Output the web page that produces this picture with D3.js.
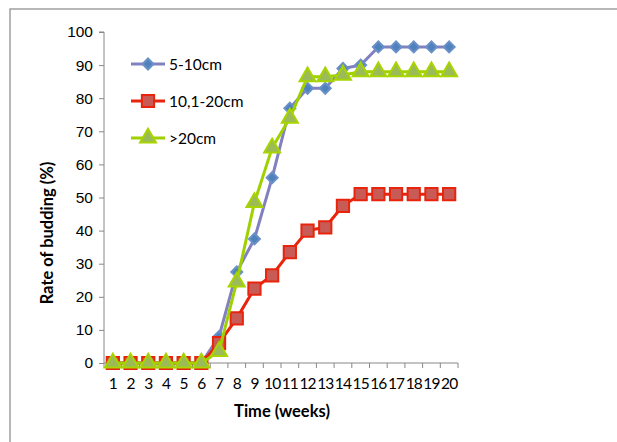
<!DOCTYPE html>
<html>
<head>
<meta charset="utf-8">
<script src="https://cdn.jsdelivr.net/npm/d3@7"></script>
<style>
  body { margin: 0; background: #fff; }
  svg { font-family: Lato, "Open Sans", sans-serif; }
</style>
</head>
<body>
<svg id="chart" width="617" height="442"></svg>
<script>
const weeks = d3.range(1, 21);
const yTicks = [0, 10, 20, 30, 40, 50, 60, 70, 80, 90, 100];
const small = [0, 0, 0, 0, 0, 0, 8, 27.5, 37.5, 56, 77, 83, 83, 89, 90, 95.5, 95.5, 95.5, 95.5, 95.5];
const medium = [0, 0, 0, 0, 0, 0, 6, 13.5, 22.5, 26.5, 33.5, 40, 41, 47.5, 51, 51, 51, 51, 51, 51];
const large = [0, 0, 0, 0, 0, 0, 3.5, 24.5, 48.5, 65, 74, 86.5, 86.5, 87, 88, 88, 88, 88, 88, 88];
const seriesNames = ["5-10cm", "10,1-20cm", ">20cm"];

const svg = d3.select("#chart");

// outer frame
svg.append("rect").attr("x", 10).attr("y", 9).attr("width", 620).attr("height", 450)
  .attr("fill", "none").attr("stroke", "#a0a0a0").attr("stroke-width", 1.5);

const mLeft = 104, mRight = 458, mTop = 32, mBottom = 363;

const x = d3.scaleBand().domain(weeks).range([mLeft, mRight]);
const y = d3.scaleLinear().domain([0, 100]).range([mBottom, mTop]);

// y axis
const yAxis = svg.append("g").attr("transform", `translate(${mLeft},0)`)
  .call(d3.axisLeft(y).tickValues(yTicks).tickSize(5).tickPadding(6));
yAxis.select(".domain").attr("stroke", "#888").attr("d", `M-5,${mTop}H0V${mBottom}`);
yAxis.selectAll(".tick line").attr("stroke", "#888");
yAxis.selectAll("text").attr("font-size", 15.5).attr("fill", "#000");

// x axis
const xAxis = svg.append("g").attr("transform", `translate(0,${mBottom})`);
xAxis.append("line").attr("x1", mLeft).attr("x2", mRight).attr("stroke", "#888");
xAxis.selectAll("line.tk").data(weeks.concat([21])).join("line").attr("class", "tk")
  .attr("x1", d => d <= 20 ? x(d) : mRight).attr("x2", d => d <= 20 ? x(d) : mRight)
  .attr("y1", 0).attr("y2", 5).attr("stroke", "#888");
xAxis.selectAll("text").data(weeks).join("text")
  .attr("x", d => x(d) + x.bandwidth() / 2).attr("y", 26)
  .attr("text-anchor", "middle").attr("font-size", 15.5).attr("letter-spacing", -0.9)
  .text(d => d);

// titles
svg.append("text").attr("x", 282).attr("y", 417).attr("text-anchor", "middle")
  .attr("font-size", 16.5).attr("font-weight", "bold").text("Time (weeks)");
svg.append("text").attr("transform", "translate(53,233) rotate(-90)").attr("text-anchor", "middle")
  .attr("font-size", 16.5).attr("font-weight", "bold").text("Rate of budding (%)");

const cx = (d, i) => x(weeks[i]) + x.bandwidth() / 2;
const line = d3.line().x(cx).y(d => y(d));

const styles = [
  { data: small, line: "#8281c0", fill: "#4f81bd", stroke: "#6a90c8", shape: d3.symbolSquare, size: 60, rot: 45 },
  { data: medium, line: "#e8250c", fill: "#c95b57", stroke: "#e8250c", shape: d3.symbolSquare, size: 150, rot: 0 },
  { data: large, line: "#9fd100", fill: "#9bbb59", stroke: "#a8d400", shape: d3.symbolTriangle, size: 110, rot: 0 }
];

const plot = svg.append("g");
styles.forEach(s => {
  plot.append("path").datum(s.data).attr("d", line)
    .attr("fill", "none").attr("stroke", s.line).attr("stroke-width", 3);
  plot.selectAll(null).data(s.data).join("path")
    .attr("transform", (d, i) => `translate(${cx(d, i)},${y(d)}) rotate(${s.rot})`)
    .attr("d", d3.symbol().type(s.shape).size(s.size))
    .attr("fill", s.fill).attr("stroke", s.stroke).attr("stroke-width", 2);
});

// legend
const legendY = [64, 101, 138];
styles.forEach((s, i) => {
  const g = svg.append("g").attr("transform", `translate(131,${legendY[i]})`);
  g.append("line").attr("x1", 0).attr("x2", 34).attr("stroke", s.line).attr("stroke-width", 3);
  g.append("path").attr("transform", `translate(17,0) rotate(${s.rot})`)
    .attr("d", d3.symbol().type(s.shape).size(s.size))
    .attr("fill", s.fill).attr("stroke", s.stroke).attr("stroke-width", 2);
  g.append("text").attr("x", 38).attr("y", 5.5).attr("font-size", 15.5).text(seriesNames[i]);
});
</script>
</body>
</html>
